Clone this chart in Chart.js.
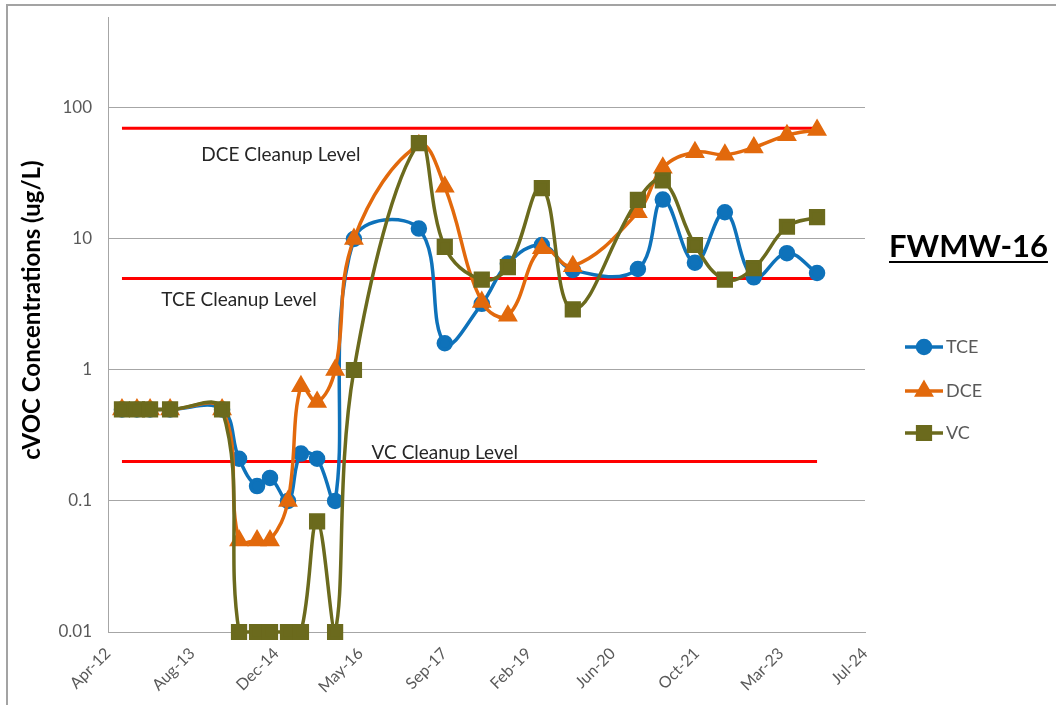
<!DOCTYPE html>
<html>
<head>
<meta charset="utf-8">
<script src="https://cdn.jsdelivr.net/npm/chart.js@4/dist/chart.umd.min.js"></script>
<style>
  html, body { margin: 0; padding: 0; background: #ffffff; overflow: hidden; }
  #wrap { position: relative; width: 1056px; height: 705px; }
  #frame { position: absolute; left: 6px; top: 4px; width: 1200px; height: 800px;
           border-left: 2px solid #a3a3a3; border-top: 2px solid #a3a3a3; }
  canvas { position: absolute; left: 0; top: 0; }
</style>
</head>
<body>
<div id="wrap">
  <div id="frame"></div>
  <canvas id="c" width="1056" height="705"></canvas>
</div>
<script>
// ---------------- DATA ----------------
const sampleDates = [
  '2012-06-23','2012-09-20','2012-12-07','2013-04-05','2014-02-08','2014-05-20',
  '2014-09-04','2014-11-20','2015-03-07','2015-05-23','2015-08-27','2015-12-12',
  '2016-04-02','2017-04-23','2017-09-24','2018-05-02','2018-10-04','2019-04-24',
  '2019-10-25','2020-11-15','2021-04-12','2021-10-20','2022-04-16','2022-10-05',
  '2023-04-20','2023-10-16'
];
const tceValues = [0.5,0.5,0.5,0.5,0.5,0.21,0.13,0.15,0.1,0.23,0.21,0.1,
  10,12,1.6,3.2,6.5,9,5.8,5.9,20,6.6,16,5.1,7.8,5.5];
const dceValues = [0.5,0.5,0.5,0.5,0.5,0.05,0.05,0.05,0.1,0.75,0.57,1,
  10,52,25,3.3,2.6,8.5,6.2,16,35,46,44,50,62,68];
const vcValues  = [0.5,0.5,0.5,0.5,0.5,0.01,0.01,0.01,0.01,0.01,0.07,0.01,
  1,54,8.7,4.9,6.1,24.5,2.9,19.9,28,9,4.9,6,12.4,14.7];

const seriesNames = ['TCE','DCE','VC'];
const cleanupLevels = [70, 5, 0.2];           // DCE, TCE, VC
const cleanupLabels = ['DCE Cleanup Level','TCE Cleanup Level','VC Cleanup Level'];
const cleanupStart = '2012-06-23';
const cleanupEnd = '2023-10-16';

const yTickValues = [0.01, 0.1, 1, 10, 100];
const xAxisMinDate = '2012-04-01';  // Excel serial 41000
const xAxisMaxDate = '2024-07-27';  // Excel serial 45500
const xTickStepDays = 500;

const yTitle = 'cVOC Concentrations (ug/L)';
const wellName = 'FWMW-16';

// ---------------- HELPERS ----------------
const MON = ['Jan','Feb','Mar','Apr','May','Jun','Jul','Aug','Sep','Oct','Nov','Dec'];
const EPOCH = Date.UTC(1899, 11, 30);
function toSerial(s) {
  const [y, m, d] = s.split('-').map(Number);
  return Math.round((Date.UTC(y, m - 1, d) - EPOCH) / 86400000);
}
function serialLabel(v) {
  const dt = new Date(EPOCH + v * 86400000);
  return MON[dt.getUTCMonth()] + '-' + String(dt.getUTCFullYear() % 100).padStart(2, '0');
}
const xs = sampleDates.map(toSerial);
const pts = vals => vals.map((v, i) => ({ x: xs[i], y: v }));

const COLORS = { TCE: '#0E72BA', DCE: '#E2690C', VC: '#6B6A1D' };
const FONT = 'Lato, "Liberation Sans", sans-serif';

const lineDefaults = { tension: 0.4, borderWidth: 3.5, fill: false, clip: false };

const datasets = [
  Object.assign({ label: 'VC', data: pts(vcValues), borderColor: COLORS.VC, backgroundColor: COLORS.VC,
    pointStyle: 'rect', pointRadius: 9, order: 0 }, lineDefaults),
  Object.assign({ label: 'DCE', data: pts(dceValues), borderColor: COLORS.DCE, backgroundColor: COLORS.DCE,
    pointStyle: 'triangle', pointRadius: 8, order: 1 }, lineDefaults),
  Object.assign({ label: 'TCE', data: pts(tceValues), borderColor: COLORS.TCE, backgroundColor: COLORS.TCE,
    pointStyle: 'circle', pointRadius: 6.5, order: 2 }, lineDefaults)
];
cleanupLevels.forEach((lvl, i) => {
  datasets.push({
    label: cleanupLabels[i],
    data: [{ x: toSerial(cleanupStart), y: lvl }, { x: toSerial(cleanupEnd), y: lvl }],
    borderColor: '#FF0000', borderWidth: 3, pointRadius: 0, tension: 0, order: 10
  });
});

// ---------------- DECORATION PLUGIN ----------------
const decor = {
  id: 'decor',
  beforeDatasetsDraw(chart) {
    const ctx = chart.ctx, xS = chart.scales.x, yS = chart.scales.y;
    ctx.save();
    ctx.font = '19px ' + FONT;
    ctx.fillStyle = '#262626';
    ctx.textAlign = 'center';
    ctx.textBaseline = 'middle';
    // label anchor: [date, offset in px from line]
    const anchors = [['2015-01-24', 27], ['2014-05-20', 21], ['2017-09-24', -9]];
    cleanupLevels.forEach((lvl, i) => {
      const x = xS.getPixelForValue(toSerial(anchors[i][0]));
      const y = yS.getPixelForValue(lvl) + anchors[i][1];
      ctx.fillText(cleanupLabels[i], x, y);
    });
    ctx.restore();
  },
  afterDraw(chart) {
    const ctx = chart.ctx;
    ctx.save();
    // Y title
    ctx.translate(32, 310);
    ctx.rotate(-Math.PI / 2);
    ctx.font = 'bold 24px ' + FONT;
    ctx.fillStyle = '#000';
    ctx.textAlign = 'center';
    ctx.textBaseline = 'middle';
    ctx.fillText(yTitle, 0, 0);
    ctx.restore();

    // Well name, underlined
    ctx.save();
    ctx.font = 'bold 31px ' + FONT;
    ctx.fillStyle = '#000';
    ctx.textAlign = 'left';
    ctx.textBaseline = 'alphabetic';
    const w = ctx.measureText(wellName).width;
    ctx.fillText(wellName, 889, 257);
    ctx.fillRect(889, 261, w, 2);
    ctx.restore();

    // Legend
    ctx.save();
    const legendY = [347, 391, 433];
    seriesNames.forEach((name, i) => {
      const y = legendY[i];
      const col = COLORS[name];
      ctx.strokeStyle = col; ctx.fillStyle = col; ctx.lineWidth = 3.5;
      ctx.beginPath(); ctx.moveTo(905, y); ctx.lineTo(943, y); ctx.stroke();
      const style = name === 'TCE' ? 'circle' : name === 'DCE' ? 'triangle' : 'rect';
      const r = name === 'TCE' ? 6.5 : name === 'DCE' ? 8 : 9;
      Chart.helpers.drawPoint(ctx, { pointStyle: style, radius: r, borderWidth: 1 }, 924, y);
      ctx.fill();
      ctx.font = '18px ' + FONT;
      ctx.fillStyle = '#595959';
      ctx.textAlign = 'left'; ctx.textBaseline = 'middle';
      ctx.fillText(name, 946, y);
    });
    ctx.restore();
  }
};

// ---------------- CHART ----------------
new Chart(document.getElementById('c'), {
  type: 'line',
  data: { datasets },
  options: {
    responsive: false,
    animation: false,
    devicePixelRatio: 1,
    layout: { padding: { left: 0, top: 17, right: 191, bottom: 0 } },
    plugins: { legend: { display: false }, tooltip: { enabled: false } },
    scales: {
      x: {
        type: 'linear',
        min: toSerial(xAxisMinDate),
        max: toSerial(xAxisMaxDate),
        afterBuildTicks(scale) {
          const t = [];
          for (let v = scale.min; v <= scale.max + 0.5; v += xTickStepDays) t.push({ value: v });
          scale.ticks = t;
        },
        afterFit(scale) {
          scale.height = 73;
          scale.paddingLeft = 0; scale.paddingRight = 0;
        },
        grid: { display: false, drawTicks: false },
        border: { display: true, color: '#A6A6A6', width: 1 },
        ticks: {
          minRotation: 45, maxRotation: 45, autoSkip: false, padding: 12,
          color: '#595959', font: { family: FONT, size: 16 },
          callback: v => serialLabel(v)
        }
      },
      y: {
        type: 'logarithmic',
        min: 0.01,
        max: 495,
        afterBuildTicks(scale) { scale.ticks = yTickValues.map(v => ({ value: v })); },
        afterFit(scale) {
          scale.width = 108;
          scale.paddingTop = 0; scale.paddingBottom = 0;
        },
        grid: { color: '#A6A6A6', lineWidth: 1, drawTicks: false },
        border: { display: true, color: '#A6A6A6', width: 1 },
        ticks: {
          padding: 16, color: '#595959', font: { family: FONT, size: 17 },
          callback: v => String(v)
        }
      }
    }
  },
  plugins: [decor]
});
</script>
</body>
</html>
